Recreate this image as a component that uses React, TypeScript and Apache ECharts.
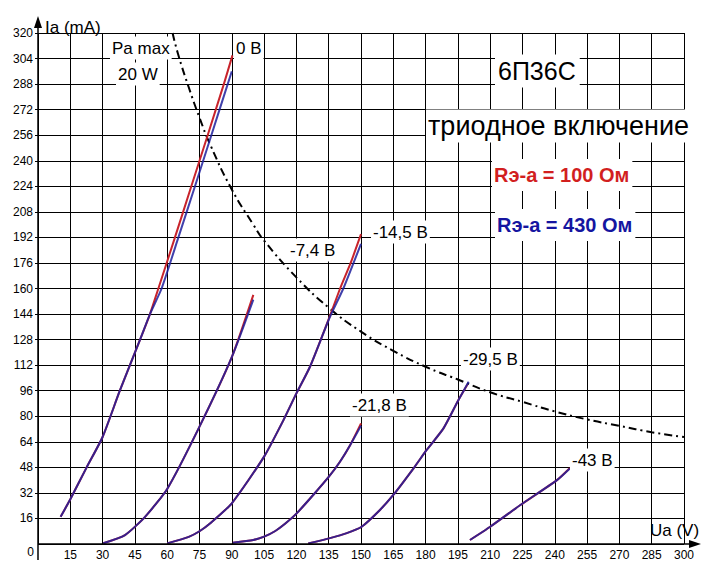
import React, { useEffect, useRef } from "react";
import * as echarts from "echarts";

// ---- data (Ua in V, Ia in mA) ----
const xTicks = { min: 0, max: 300, step: 15 };
const yTicks = { min: 0, max: 320, step: 16 };

// 0 V
const g0Red = [[10.5, 17], [15, 28], [22.6, 48], [30, 67], [38, 96], [47.4, 128], [52, 144], [55.9, 160], [63.6, 192], [71.2, 224], [75, 240], [78.8, 256], [86.3, 288], [90.3, 306]];
const g0Blue = [[10.5, 17], [15, 28], [22.6, 48], [30, 67], [38, 96], [47.4, 128], [52, 144], [57.4, 160], [65.2, 192], [72.9, 224], [76.7, 240], [80.5, 256], [88.1, 288], [90, 296]];
// -7.4 V
const g7Red = [[30.3, 0.5], [40.4, 5.6], [49.7, 17], [60, 34.5], [75, 73.5], [90, 117], [100, 156]];
const g7Blue = [[30.3, 0.5], [40.4, 5.6], [49.7, 17], [60, 34.5], [75, 73.5], [90, 117], [100, 153]];
// -14.5 V
const g14Red = [[60, 0.4], [70, 4.5], [75, 8], [80, 13], [90, 25.5], [105, 54.7], [114, 77.6], [120, 94.3], [126.3, 111], [135.6, 143], [140.3, 160], [145.2, 176], [150, 194]];
const g14Blue = [[60, 0.4], [70, 4.5], [75, 8], [80, 13], [90, 25.5], [105, 54.7], [114, 77.6], [120, 94.3], [126.3, 111], [135.6, 142.3], [141.8, 160], [150, 188]];
// -21.8 V
const g21Red = [[90.5, 0.8], [100, 2.5], [105, 4.6], [110, 8], [115, 13], [120, 19], [128, 31], [135, 42], [140, 51], [145, 62], [150, 75.5]];
const g21Blue = [[90.5, 0.8], [100, 2.5], [105, 4.6], [110, 8], [115, 13], [120, 19], [128, 31], [135, 42], [140, 51], [145, 62], [150, 74]];
// -29.5 V
const g29Red = [[125.5, 0.4], [135.6, 3.7], [143.4, 6.8], [150.3, 10.8], [158.8, 21.3], [165, 30.7], [174.4, 47.4], [180.5, 58.9], [188.3, 72.4], [195.2, 90], [199.5, 100]];
const g29Blue = [[125.5, 0.4], [135.6, 3.7], [143.4, 6.8], [150.3, 10.8], [158.8, 21.3], [165, 30.7], [174.4, 47.4], [180.5, 58.9], [188.3, 72.4], [195.2, 90], [200, 101.6]];
// -43 V
const g43Red = [[200.6, 2.5], [210, 10.8], [224, 24.4], [241, 40], [247, 47.6]];
const g43Blue = [[200.6, 2.5], [210, 10.8], [224, 24.4], [241, 40], [247, 47.3]];
// Pa max = 20 W boundary
const paMax = [[62.5, 320], [65, 307], [70, 286], [75, 267], [80, 250], [90, 222], [100, 200], [105, 190], [120, 167], [135, 148], [150, 133], [165, 121], [180, 111], [195, 103], [210, 95], [225, 89], [240, 83], [255, 78], [270, 74], [285, 70], [300, 67]];

const redCurves = [g0Red, g7Red, g14Red, g21Red, g29Red, g43Red];
const blueCurves = [g0Blue, g7Blue, g14Blue, g21Blue, g29Blue, g43Blue];

const RED = "#c8232b";
const BLUE = "#1f1f9c";
const FONT = "'Liberation Sans', Arial, sans-serif";

function label(text: string, x: number, y: number, size: number, opts: any = {}) {
  return {
    type: "text",
    x,
    y,
    z: 50,
    style: {
      text,
      font: `${opts.weight || "normal"} ${size}px ${FONT}`,
      fill: opts.color || "#000",
      backgroundColor: opts.bg === false ? undefined : "#fff",
      padding: opts.padding || [3, 2, 3, 2],
      textAlign: opts.align || "left",
      textVerticalAlign: "middle",
      align: opts.align || "left",
      verticalAlign: "middle",
    },
  };
}

export default function App() {
  const ref = useRef<HTMLDivElement>(null);
  useEffect(() => {
    document.body.style.margin = "0";
    const chart = echarts.init(ref.current!, null, { renderer: "svg" });
    const series: any[] = [];
    redCurves.forEach((d) =>
      series.push({
        type: "line",
        data: d,
        symbol: "none",
        smooth: 0.2,
        lineStyle: { color: RED, width: 2 },
        z: 3,
      })
    );
    blueCurves.forEach((d) =>
      series.push({
        type: "line",
        data: d,
        symbol: "none",
        smooth: 0.2,
        lineStyle: { color: BLUE, width: 2, opacity: 0.85 },
        z: 4,
      })
    );
    series.push({
      type: "line",
      data: paMax,
      symbol: "none",
      smooth: true,
      lineStyle: { color: "#000", width: 2, type: [8, 4, 2, 4] },
      z: 2,
    });

    const option: any = {
      animation: false,
      backgroundColor: "#fff",
      grid: { left: 38, right: 36, top: 33, bottom: 32 },
      xAxis: {
        type: "value",
        min: xTicks.min,
        max: xTicks.max,
        interval: xTicks.step,
        axisLine: { show: false },
        axisTick: { show: false },
        splitLine: { show: true, lineStyle: { color: "#000", width: 1 } },
        axisLabel: {
          showMinLabel: false,
          margin: 5,
          color: "#000",
          fontSize: 12,
          fontFamily: FONT,
        },
      },
      yAxis: {
        type: "value",
        min: yTicks.min,
        max: yTicks.max,
        interval: yTicks.step,
        axisLine: { show: false },
        axisTick: { show: true, length: 3, lineStyle: { color: "#000" } },
        splitLine: { show: true, lineStyle: { color: "#000", width: 1 } },
        axisLabel: {
          showMinLabel: false,
          margin: 5,
          color: "#000",
          fontSize: 12,
          fontFamily: FONT,
        },
      },
      series,
      graphic: [
        // axes with arrows
        { type: "line", shape: { x1: 38, y1: 24, x2: 38, y2: 560 }, style: { stroke: "#000", lineWidth: 1.5 }, z: 40 },
        { type: "polygon", shape: { points: [[38, 16], [34, 28], [42, 28]] }, style: { fill: "#000" }, z: 40 },
        { type: "line", shape: { x1: 38, y1: 544, x2: 694, y2: 544 }, style: { stroke: "#000", lineWidth: 1.5 }, z: 40 },
        { type: "polygon", shape: { points: [[701, 544], [689, 540], [689, 548]] }, style: { fill: "#000" }, z: 40 },
        label("0", 36, 552, 12, { align: "right", bg: false, padding: 0 }),
        label("Ia (mA)", 43, 27, 17, { bg: false, padding: 0 }),
        label("Ua (V)", 648, 530, 17, { bg: false, padding: 0 }),
        label("Pa max", 110, 48, 17),
        label("20 W", 116, 74, 17),
        label("0 В", 234, 48, 17),
        label("6П36С", 495, 71, 25, { padding: [4, 4, 4, 3] }),
        label("триодное включение", 426, 126, 27, { padding: [3, 2, 3, 2] }),
        label("Rэ-а = 100 Ом", 492, 175, 20, { weight: "bold", color: "#d21f1f", padding: [5, 3, 7, 2] }),
        label("Rэ-а = 430 Ом", 495, 225, 20, { weight: "bold", color: "#1515a0", padding: [5, 3, 7, 2] }),
        label("-14,5 В", 371, 232, 17),
        label("-7,4 В", 288, 250, 17),
        label("-21,8 В", 350, 405, 17),
        label("-29,5 В", 461, 359, 17),
        label("-43 В", 570, 460, 17),
      ],
    };
    chart.setOption(option);
    return () => chart.dispose();
  }, []);
  return (
    <div
      ref={ref}
      style={{ position: "absolute", left: 0, top: 0, width: 720, height: 576, background: "#fff" }}
    />
  );
}
